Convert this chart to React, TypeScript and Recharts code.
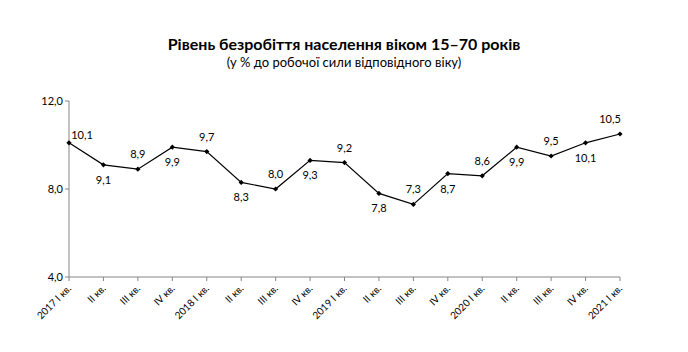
import { CartesianGrid, Line, LineChart, XAxis, YAxis } from 'recharts';

const quarters = [
  '2017 І кв.', 'ІІ кв.', 'ІІІ кв.', 'IV кв.',
  '2018 І кв.', 'ІІ кв.', 'ІІІ кв.', 'IV кв.',
  '2019 І кв.', 'ІІ кв.', 'ІІІ кв.', 'IV кв.',
  '2020 І кв.', 'ІІ кв.', 'ІІІ кв.', 'IV кв.',
  '2021 І кв.'
];
const rates = [10.1, 9.1, 8.9, 9.9, 9.7, 8.3, 8.0, 9.3, 9.2, 7.8, 7.3, 8.7, 8.6, 9.9, 9.5, 10.1, 10.5];
const yTicks = [4, 8, 12];

const data = quarters.map((q, i) => ({ key: i, quarter: q, rate: rates[i] }));

const font = 'Lato, "Open Sans", sans-serif';
const fmt = (v: number) => v.toFixed(1).replace('.', ',');

function Diamond(props: any) {
  const { cx, cy } = props;
  if (cx == null || cy == null) return null;
  const s = 2.6;
  return (
    <path
      d={`M${cx},${cy - s} L${cx + s},${cy} L${cx},${cy + s} L${cx - s},${cy} Z`}
      fill='#000'
    />
  );
}

function ValueLabel(props: any) {
  const { x, y, value, index } = props;
  let dx = 0;
  let dy = index % 2 === 0 ? -11 : 19;
  if (index === 0) {
    dx = 13;
    dy = -4;
  }
  if (index === rates.length - 1) dx = -10;
  return (
    <text x={x + dx} y={y + dy} textAnchor='middle' fontSize={11} fontFamily={font} fill='#000'>
      {fmt(value)}
    </text>
  );
}

function QuarterTick(props: any) {
  const { x, y, payload } = props;
  return (
    <text
      x={x + 3}
      y={y + 6}
      transform={`rotate(-45, ${x + 3}, ${y + 6})`}
      textAnchor='end'
      fontSize={10}
      fontFamily={font}
      fill='#000'
    >
      {quarters[payload.value]}
    </text>
  );
}

export default function App() {
  return (
    <div style={{ position: 'fixed', left: 0, top: 0, width: 688, height: 352, background: '#fff' }}>
      <div
        style={{
          position: 'absolute',
          top: 34,
          width: 688,
          textAlign: 'center',
          fontFamily: font,
          fontWeight: 700,
          fontSize: 16,
          color: '#000'
        }}
      >
        Рівень безробіття населення віком 15–70 років
      </div>
      <div
        style={{
          position: 'absolute',
          top: 54,
          width: 688,
          textAlign: 'center',
          fontFamily: font,
          fontSize: 13,
          color: '#000'
        }}
      >
        (у % до робочої сили відповідного віку)
      </div>
      <LineChart width={688} height={352} data={data} margin={{ top: 101, right: 68, bottom: 15, left: 29 }}>
        <CartesianGrid horizontal={false} vertical={false} />
        <XAxis
          dataKey='key'
          type='category'
          height={60}
          interval={0}
          tick={<QuarterTick />}
          tickSize={4}
          axisLine={{ stroke: '#868686' }}
          tickLine={{ stroke: '#868686' }}
        />
        <YAxis
          width={40}
          domain={[4, 12]}
          ticks={yTicks}
          tickFormatter={fmt}
          tickSize={4}
          tick={{ fontSize: 11, fontFamily: font, fill: '#000' }}
          axisLine={{ stroke: '#868686' }}
          tickLine={{ stroke: '#868686' }}
        />
        <Line
          dataKey='rate'
          stroke='#000'
          strokeWidth={1.2}
          dot={<Diamond />}
          activeDot={false}
          label={<ValueLabel />}
          isAnimationActive={false}
        />
      </LineChart>
    </div>
  );
}
